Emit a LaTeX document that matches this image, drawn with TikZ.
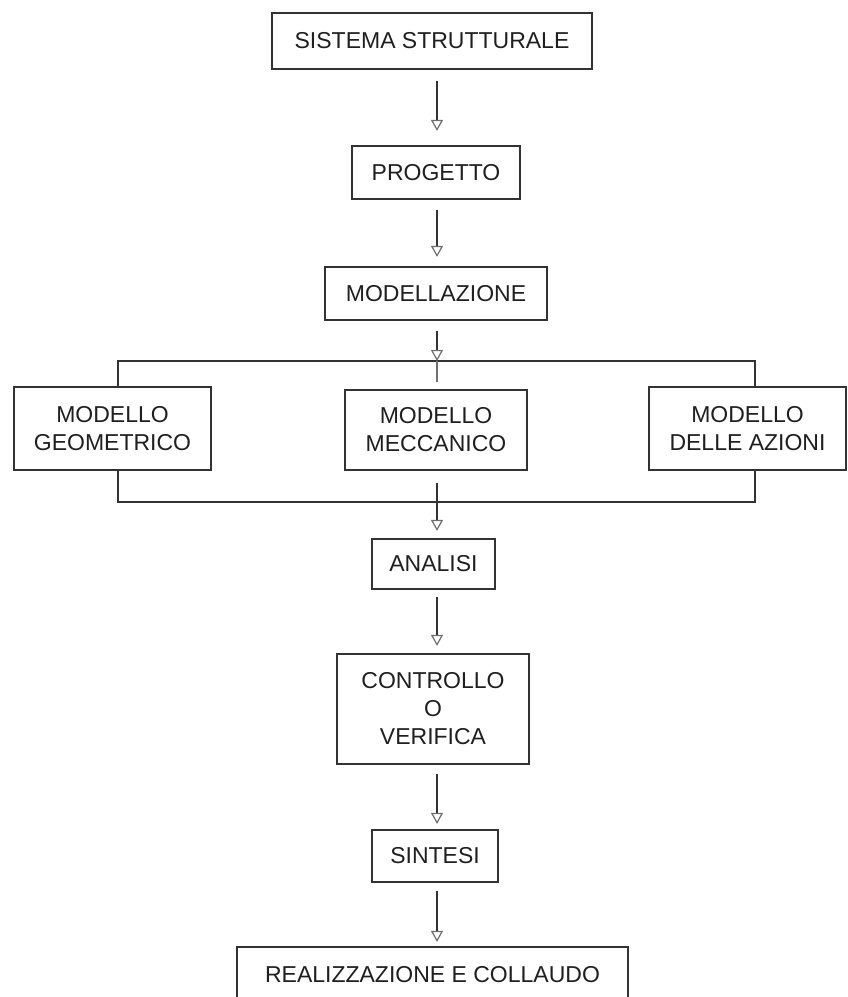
\documentclass[tikz,border=0pt]{standalone}
\usepackage{fontspec}
\setmainfont{Liberation Sans}
\usetikzlibrary{arrows.meta}
\definecolor{ink}{HTML}{333333}
\definecolor{tipgray}{HTML}{6E6E6E}
\begin{document}
\begin{tikzpicture}[x=1pt,y=-1pt,
  box/.style={draw=ink, line width=2.2pt, fill=white, inner sep=0pt, align=center,
              font=\fontsize{23}{28}\selectfont, text=black!88},
  flow/.style={draw=ink, line width=2pt,
               -{Triangle[open, length=11pt, width=12pt, line width=1.2pt, color=tipgray]}},
  link/.style={draw=ink, line width=2pt}]
\useasboundingbox (0,0) rectangle (848,997);

% main chain of boxes
\node[box, minimum width=320pt, minimum height=56pt] (sis)  at (432,41)    {SISTEMA STRUTTURALE};
\node[box, minimum width=168pt, minimum height=53pt] (prog) at (436,172.5) {PROGETTO};
\node[box, minimum width=222pt, minimum height=53pt] (mod)  at (436,293.5) {MODELLAZIONE};

% the three models
\node[box, minimum width=197pt, minimum height=83pt] (geo) at (112.5,428.5) {MODELLO\\GEOMETRICO};
\node[box, minimum width=182pt, minimum height=80pt] (mec) at (436,430)    {MODELLO\\MECCANICO};
\node[box, minimum width=197pt, minimum height=83pt] (azi) at (747.5,428.5) {MODELLO\\DELLE AZIONI};

\node[box, minimum width=123pt, minimum height=50pt]  (ana) at (433.5,564) {ANALISI};
\node[box, minimum width=192pt, minimum height=110pt] (ctl) at (433,709)   {CONTROLLO\\O\\VERIFICA};
\node[box, minimum width=126pt, minimum height=52pt]  (sin) at (435,856)   {SINTESI};
\node[box, minimum width=391pt, minimum height=56pt]  (rea) at (432.5,975) {REALIZZAZIONE E COLLAUDO};

% reference points of the flow axis and of the two bus lines
\coordinate (axis) at (437,0);
\coordinate (tl) at (118,361);
\coordinate (tb) at (437,361);
\coordinate (tr) at (755,361);
\coordinate (bl) at (118,502);
\coordinate (br) at (755,502);

% bus lines around the models
\draw[link] (geo.north -| tl) -- (tl) -- (tr) -- (azi.north -| tr);
\draw[link] (geo.south -| bl) -- (bl) -- (br) -- (azi.south -| br);
\draw[draw=ink!70, line width=1.2pt] (tb) -- ++(0,21);

% arrows
\draw[flow, shorten <=11pt, shorten >=14pt] (sis.south -| axis) -- (prog.north -| axis);
\draw[flow, shorten <=10pt, shorten >=9pt]  (prog.south -| axis) -- (mod.north -| axis);
\draw[flow, shorten <=10pt, shorten >=0pt]  (mod.south -| axis) -- (tb);
\draw[flow, shorten <=12pt, shorten >=7pt]  (mec.south -| axis) -- (ana.north -| axis);
\draw[flow, shorten <=7pt, shorten >=7pt]   (ana.south -| axis) -- (ctl.north -| axis);
\draw[flow, shorten <=9pt, shorten >=5pt]   (ctl.south -| axis) -- (sin.north -| axis);
\draw[flow, shorten <=8pt, shorten >=4pt]   (sin.south -| axis) -- (rea.north -| axis);
\end{tikzpicture}
\end{document}
